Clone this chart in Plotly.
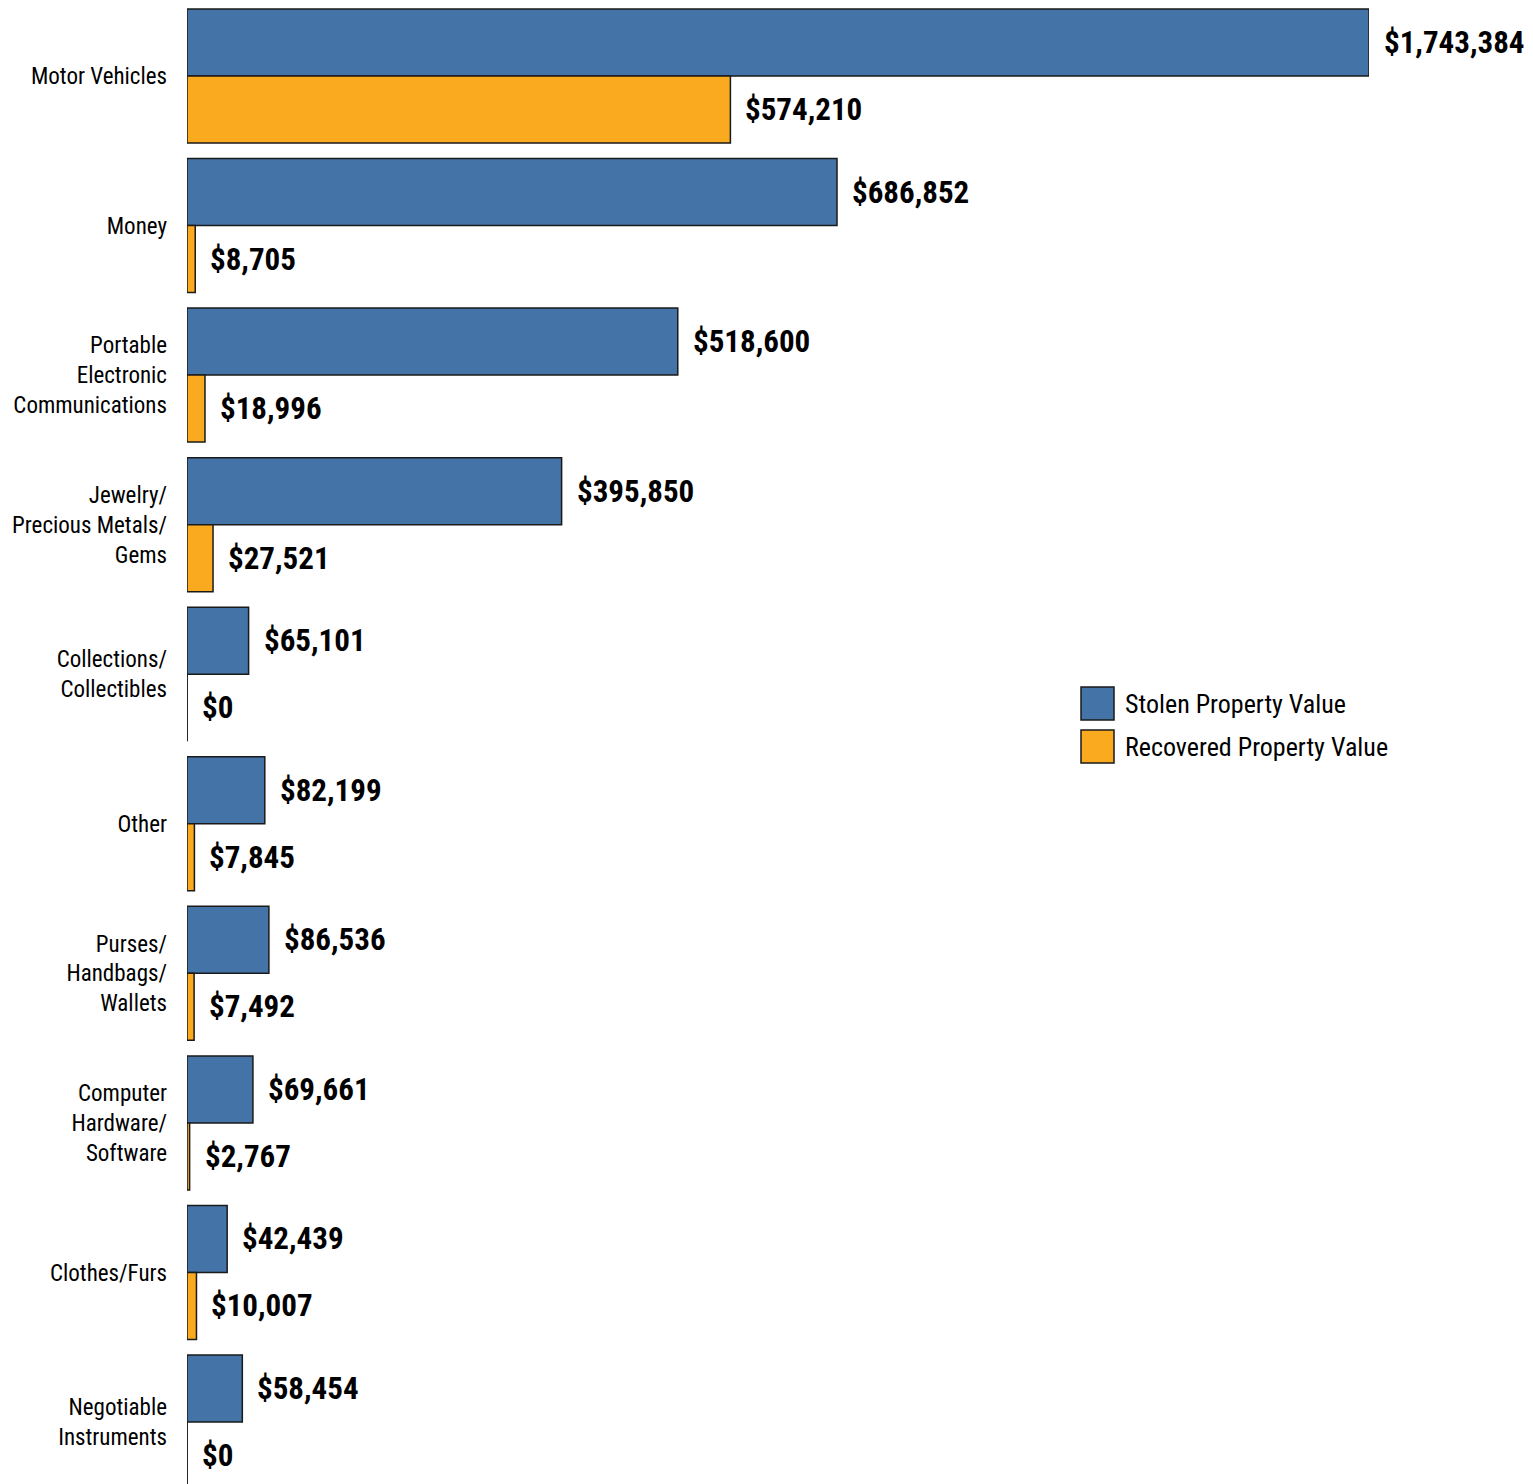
import plotly.graph_objects as go

categories = ["Motor Vehicles", "Money", "Portable<br>Electronic<br>Communications",
              "Jewelry/<br>Precious Metals/<br>Gems", "Collections/<br>Collectibles", "Other",
              "Purses/<br>Handbags/<br>Wallets", "Computer<br>Hardware/<br>Software",
              "Clothes/Furs", "Negotiable<br>Instruments"]
stolen = [1743384, 686852, 518600, 395850, 65101, 82199, 86536, 69661, 42439, 58454]
recovered = [574210, 8705, 18996, 27521, 0, 7845, 7492, 2767, 10007, 0]
series_names = ["Stolen Property Value", "Recovered Property Value"]
colors = ["#4473a7", "#f9aa1f"]

FONT = "Liberation Sans Narrow, Roboto Condensed, Arial Narrow, DejaVu Sans Condensed, sans-serif"
OFF = 8                      # page body margin
W, H = 1525, 1476
ML = 187 - OFF
MR = W - (1369 - OFF)
XMAX = 1249000
BARGAP = 0.104
HALF = (1 - BARGAP) / 2
PITCH = 149.56
CENTER0 = 76                 # page y of first group centre

idx = list(range(len(categories)))
fig = go.Figure()
for name, vals, col in zip(series_names, [stolen, recovered], colors):
    fig.add_trace(go.Bar(
        y=idx, x=vals, orientation="h", name=name,
        marker=dict(color=col, line=dict(color="#1a1a1a", width=1.5)),
        hoverinfo="x+y",
    ))

annotations = []
shapes = []
for s_i, vals in enumerate([stolen, recovered]):
    for i, v in enumerate(vals):
        yc = i - HALF / 2 if s_i == 0 else i + HALF / 2
        annotations.append(dict(
            x=min(v, XMAX), y=yc, xref="x", yref="y", text=f"${v:,}",
            showarrow=False, xanchor="left", yanchor="middle", xshift=13,
            font=dict(family=FONT, size=31, color="#000000", weight="bold"),
        ))
        y0 = i - HALF if s_i == 0 else i
        if v == 0:
            shapes.append(dict(type="line", xref="x", yref="y", x0=0, x1=0,
                               y0=y0, y1=y0 + HALF, line=dict(color="#1a1a1a", width=1.5)))
        if v > XMAX:
            shapes.append(dict(type="line", xref="x", yref="y", x0=XMAX, x1=XMAX,
                               y0=y0, y1=y0 + HALF, line=dict(color="#1a1a1a", width=1.5)))

# custom legend (page pixel placement converted to paper coords)
pw = W - ML - MR
def px_x(p):
    return (p - OFF - ML) / pw
def px_y(p):
    return 1 - (p - OFF) / H
for k, (name, col) in enumerate(zip(series_names, colors)):
    top = 687 + k * 43
    shapes.append(dict(type="rect", xref="paper", yref="paper",
                       x0=px_x(1081), x1=px_x(1114), y0=px_y(top + 33), y1=px_y(top),
                       fillcolor=col, line=dict(color="#1a1a1a", width=1.5)))
    annotations.append(dict(x=px_x(1123), y=px_y(top + 17), xref="paper", yref="paper",
                            text=name, showarrow=False, xanchor="left", yanchor="middle",
                            font=dict(family=FONT, size=26, color="#000000")))

y_top = (OFF - CENTER0) / PITCH
y_bot = (OFF + H - CENTER0) / PITCH
fig.update_layout(
    width=W, height=H,
    margin=dict(l=ML, r=MR, t=0, b=0, autoexpand=False),
    plot_bgcolor="white", paper_bgcolor="white",
    barmode="group", bargap=BARGAP, bargroupgap=0,
    showlegend=False,
    annotations=annotations, shapes=shapes,
    xaxis=dict(range=[0, XMAX], showticklabels=False, showgrid=False, zeroline=False,
               showline=False, fixedrange=True, automargin=False),
    yaxis=dict(tickmode="array", tickvals=idx, ticktext=categories,
               range=[y_bot, y_top], showgrid=False, zeroline=False,
               showline=False, ticks="", ticklabelstandoff=19, automargin=False,
               tickfont=dict(family=FONT, size=23, color="#000000")),
)
fig.write_html("out.html")
